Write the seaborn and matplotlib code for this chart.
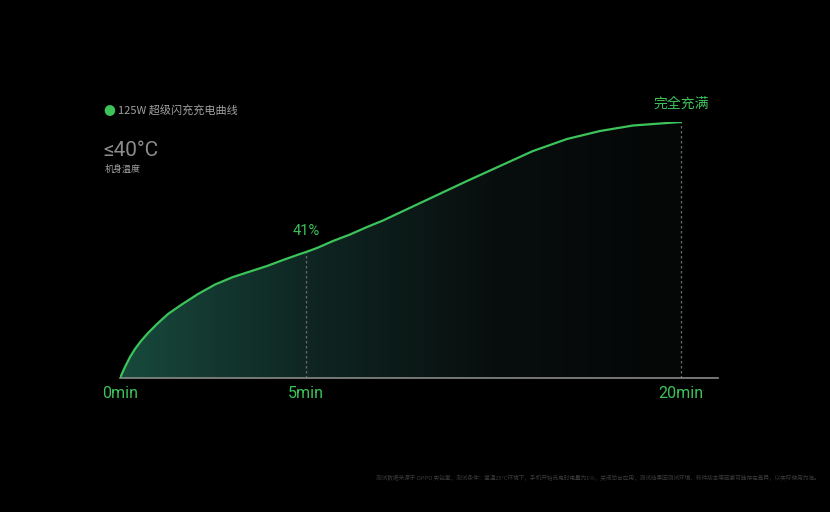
import matplotlib
matplotlib.use("Agg")
import matplotlib.pyplot as plt
from matplotlib.patches import PathPatch
from matplotlib.colors import LinearSegmentedColormap
import numpy as np
import pandas as pd
import seaborn as sns

# charging curve: time in minutes, curve height in % of full
minutes = [0, 0.134, 0.269, 0.403, 0.565, 0.753, 0.995, 1.29, 1.64, 2.097, 2.554, 3.038,
           3.495, 3.952, 4.382, 4.839, 5.0, 5.44, 6.08, 6.76, 7.44, 8.08, 8.76, 10.08,
           11.44, 12.76, 14.08, 15.44, 16.76, 18.08, 19.44, 20.0]
level = [0, 4.3, 8.2, 11.33, 14.45, 17.58, 21.09, 25.0, 28.52, 32.81, 36.52, 39.45,
         41.6, 43.75, 46.09, 48.44, 49.22, 50.78, 53.52, 56.05, 58.98, 61.52, 64.65, 70.7,
         76.95, 82.81, 88.67, 93.36, 96.48, 98.63, 99.61, 100.0]
tick_minutes = [0, 5, 20]
tick_labels = ['0min', '5min', '20min']
mark_minutes = [5, 20]
mark_labels = ['41%', '完全充满']
title = '125W 超级闪充充电曲线'
temp_text = '≤40°C'
temp_caption = '机身温度'
footnote = ('测试数据来源于 OPPO 实验室，测试条件：室温25°C环境下，手机开始充电时电量为1%，关闭后台应用，'
            '测试结果因测试环境、软件版本等因素可能存在差异，以实际使用为准。')

GREEN = '#3cc35a'
LATIN = ['Roboto', 'Noto Sans CJK SC', 'DejaVu Sans']
df = pd.DataFrame({'minutes': minutes, 'level': level})

sns.set_theme(style='dark', rc={'figure.facecolor': 'black', 'axes.facecolor': 'black',
                                'savefig.facecolor': 'black'})
plt.rcParams['font.family'] = ['Noto Sans CJK SC', 'DejaVu Sans']


# the time axis is stretched: 0-5 min takes a third of the width
def fwd(t):
    t = np.asarray(t, dtype=float)
    return np.where(t <= 5, t * 37.2, 186 + (t - 5) * 25.0)


def inv(u):
    u = np.asarray(u, dtype=float)
    return np.where(u <= 186, u / 37.2, 5 + (u - 186) / 25.0)


fig = plt.figure(figsize=(8.3, 5.12), dpi=100)
ax = fig.add_axes([120 / 830, 134 / 512, 598 / 830, 256 / 512])
ax.set_xscale('function', functions=(fwd, inv))
ax.set_xlim(0, 21.48)
ax.set_ylim(0, 100)

# gradient fill under the curve
poly = ax.fill_between(df.minutes, 0, df.level, color='none', lw=0)
clip = PathPatch(poly.get_paths()[0], transform=ax.transData, facecolor='none', edgecolor='none')
ax.add_patch(clip)
cmap = LinearSegmentedColormap.from_list('fill', ['#17493c', '#0f2622', '#080e0e', '#050606'])
tgrid = np.linspace(0, 20, 600)
grad = (fwd(tgrid) / 561.0)[None, :]
img = ax.imshow(grad, extent=(0, 20, 0, 100), aspect='auto', cmap=cmap, origin='lower',
                interpolation='bilinear', zorder=1)
img.set_clip_path(clip)

sns.lineplot(data=df, x='minutes', y='level', ax=ax, color=GREEN, lw=1.6, zorder=3,
             solid_joinstyle='round', solid_capstyle='round')

# dotted markers from the baseline up to the curve
for m, lab in zip(mark_minutes, mark_labels):
    top = np.interp(m, minutes, level)
    ax.plot([m, m], [0, top], ls=(0, (2, 2)), color='#6a6a6a', lw=0.9, zorder=2)
    if m == 5:
        ax.text(m, top + 5.5, lab, color=GREEN, ha='center', va='bottom',
                fontsize=10.5, family=LATIN)
    else:
        ax.text(m, top + 4.5, lab, color=GREEN, ha='center', va='bottom', fontsize=10)

for sp in ['left', 'right', 'top']:
    ax.spines[sp].set_visible(False)
ax.spines['bottom'].set_color('#8a8a8a')
ax.spines['bottom'].set_linewidth(1.2)
ax.grid(False)
ax.set_yticks([])
ax.set_xticks(tick_minutes)
ax.set_xticklabels(tick_labels, color=GREEN, fontsize=11.5, family=LATIN)
ax.tick_params(axis='x', length=0, pad=6)
ax.set_xlabel('')
ax.set_ylabel('')
ax.minorticks_off()

# legend-like title, temperature note, footnote
fig.text(109 / 830, 1 - 111 / 512, '●', color=GREEN, fontsize=8.5, ha='center', va='center')
fig.text(118 / 830, 1 - 111 / 512, title, color='#a0a0a0', fontsize=8, ha='left', va='center')
fig.text(103 / 830, 1 - 150 / 512, temp_text, color='#8c8c8c', fontsize=15, ha='left',
         va='center', family=LATIN)
fig.text(105 / 830, 1 - 169 / 512, temp_caption, color='#a0a0a0', fontsize=6.5, ha='left', va='center')
fig.text(820 / 830, 1 - 478 / 512, footnote, color='#3a3a3a', fontsize=4.1, ha='right', va='center')

fig.savefig('out.png', dpi=100, facecolor='black')
